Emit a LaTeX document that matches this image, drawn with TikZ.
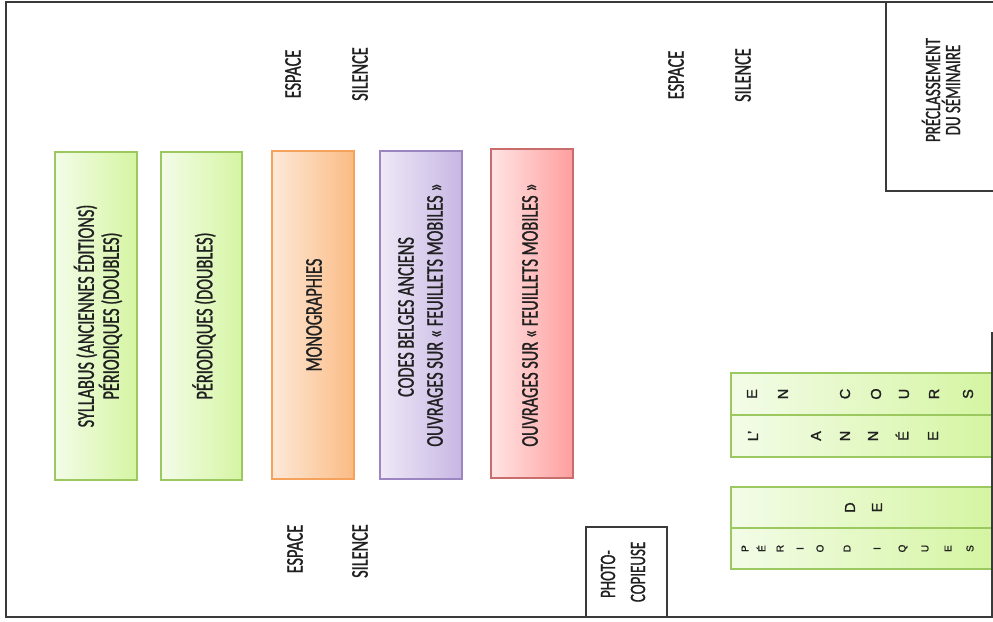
\documentclass[tikz,border=0pt]{standalone}
\usepackage{fontspec}
\setmainfont{Carlito}[FakeStretch=0.68, FakeBold=0.9]
\newfontfamily\letterfont{Liberation Sans}[FakeBold=1.4]
\usetikzlibrary{shadows}
\definecolor{frame}{HTML}{3A3A3A}
\definecolor{txt}{HTML}{202020}
\definecolor{gL}{HTML}{F3FCE8}
\definecolor{gR}{HTML}{D5F5A2}
\definecolor{gB}{HTML}{9CC860}
\definecolor{oL}{HTML}{FDE9D8}
\definecolor{oR}{HTML}{FBBB84}
\definecolor{oB}{HTML}{F4A25C}
\definecolor{pL}{HTML}{EEE9F7}
\definecolor{pR}{HTML}{C7B6E3}
\definecolor{pB}{HTML}{9C86C2}
\definecolor{rL}{HTML}{FFE4E4}
\definecolor{rR}{HTML}{FF9E9E}
\definecolor{rB}{HTML}{C86C6C}
\tikzset{
  colbox/.style={draw=#1B, line width=1.1pt, left color=#1L, right color=#1R,
    drop shadow={shadow xshift=1.2pt, shadow yshift=-1.2pt, opacity=0.22},
    inner sep=0pt, outer sep=0pt},
  vtext/.style={rotate=90, text=txt, inner sep=0pt, font=\fontsize{24}{28}\selectfont},
  stext/.style={rotate=90, text=txt, inner sep=0pt, font=\fontsize{22}{26}\selectfont},
  bigletter/.style={rotate=90, text=txt, inner sep=0pt, font=\letterfont\fontsize{14.5}{16}\selectfont},
  smallletter/.style={rotate=90, text=txt, inner sep=0pt, font=\letterfont\fontsize{10}{12}\selectfont},
  wall/.style={draw=frame, line width=1.5pt},
  plainbox/.style={draw=frame, line width=1.2pt, inner sep=0pt, outer sep=0pt}
}
\begin{document}
\begin{tikzpicture}[x=1pt,y=-1pt]
\useasboundingbox (0,0) rectangle (993,621);
% walls
\coordinate (tl) at (6,2);
\coordinate (tr) at (995,2);
\coordinate (bl) at (6,617);
\coordinate (br) at (992,617);
\coordinate (rt) at (992,332);
\draw[wall] (tr) -- (tl) -- (bl) -- (br) -- (rt);
% preclassement box
\coordinate (pa) at (886,2);
\coordinate (pb) at (886,191);
\coordinate (pc) at (995,191);
\draw[plainbox] (pa) -- (pb) -- (pc);
\node[stext] (pre1) at (931,90) {PRÉCLASSEMENT};
\node[stext] (pre2) at (951,90) {DU SÉMINAIRE};
% photocopieuse
\node[plainbox, minimum width=81pt, minimum height=90pt] (photo) at (626.5,572) {};
\node[stext] (ph1) at (608,574) {PHOTO-};
\node[stext] (ph2) at (638,572) {COPIEUSE};
% ESPACE / SILENCE
\node[vtext] (e1) at (293,74) {ESPACE};
\node[vtext] (s1) at (360,74) {SILENCE};
\node[vtext] (e2) at (676,75) {ESPACE};
\node[vtext] (s2) at (743,75) {SILENCE};
\node[vtext] (e3) at (295,549) {ESPACE};
\node[vtext] (s3) at (360,551) {SILENCE};
% column boxes
\node[colbox=g, minimum width=82pt, minimum height=328pt] (b1) at (96,316) {};
\node[colbox=g, minimum width=81pt, minimum height=328pt] (b2) at (201.5,316) {};
\node[colbox=o, minimum width=82pt, minimum height=328pt] (b3) at (313,315) {};
\node[colbox=p, minimum width=82pt, minimum height=328pt] (b4) at (421,315) {};
\node[colbox=r, minimum width=82pt, minimum height=329pt] (b5) at (532,313.5) {};
\node[vtext] (t1a) at (85.5,316) {SYLLABUS (ANCIENNES ÉDITIONS)};
\node[vtext] (t1b) at (110.5,316) {PÉRIODIQUES (DOUBLES)};
\node[vtext] (t2) at (204,316) {PÉRIODIQUES (DOUBLES)};
\node[vtext] (t3) at (314,315) {MONOGRAPHIES};
\node[vtext] (t4a) at (406,317) {CODES BELGES ANCIENS};
\node[vtext] (t4b) at (435,315) {OUVRAGES SUR « FEUILLETS MOBILES »};
\node[vtext] (t5) at (530,315) {OUVRAGES SUR « FEUILLETS MOBILES »};
% right green boxes
\node[colbox=g, minimum width=261pt, minimum height=42pt] (g1u) at (861.5,394) {};
\node[colbox=g, minimum width=261pt, minimum height=42pt] (g1l) at (861.5,436) {};
\node[colbox=g, minimum width=261pt, minimum height=41pt] (g2u) at (861.5,507.5) {};
\node[colbox=g, minimum width=261pt, minimum height=41pt] (g2l) at (861.5,548.5) {};
\draw[wall] (rt) -- (br);
% letters EN COURS
\node[bigletter] (l1) at (752,394) {E};
\node[bigletter] (l2) at (783,394) {N};
\node[bigletter] (l3) at (845,394) {C};
\node[bigletter] (l4) at (876,394) {O};
\node[bigletter] (l5) at (904,394) {U};
\node[bigletter] (l6) at (934,394) {R};
\node[bigletter] (l7) at (968,394) {S};
% L'ANNEE
\node[bigletter] (m1) at (753,436) {L’};
\node[bigletter] (m2) at (816,436) {A};
\node[bigletter] (m3) at (845,436) {N};
\node[bigletter] (m4) at (873,436) {N};
\node[bigletter] (m5) at (902,436) {É};
\node[bigletter] (m6) at (933,436) {E};
% DE
\node[bigletter] (n1) at (850,507.5) {D};
\node[bigletter] (n2) at (877,507.5) {E};
% PERIODIQUES
\node[smallletter] (q1) at (745,548.5) {P};
\node[smallletter] (q2) at (761,548.5) {É};
\node[smallletter] (q3) at (780,548.5) {R};
\node[smallletter] (q4) at (800,548.5) {I};
\node[smallletter] (q5) at (820,548.5) {O};
\node[smallletter] (q6) at (847,548.5) {D};
\node[smallletter] (q7) at (877,548.5) {I};
\node[smallletter] (q8) at (903,548.5) {Q};
\node[smallletter] (q9) at (925,548.5) {U};
\node[smallletter] (q10) at (948,548.5) {E};
\node[smallletter] (q11) at (970,548.5) {S};
\end{tikzpicture}
\end{document}
